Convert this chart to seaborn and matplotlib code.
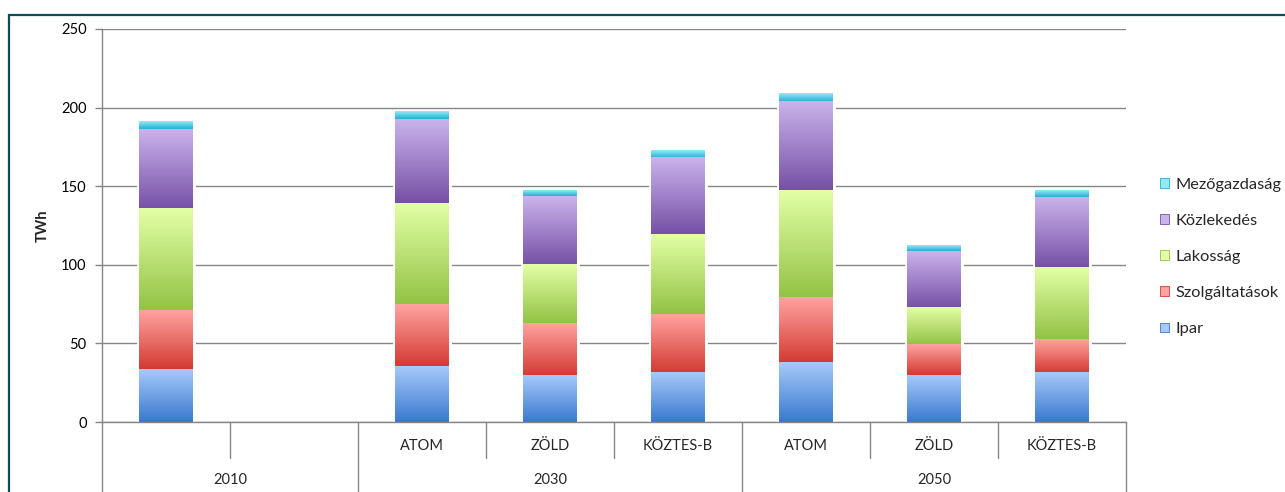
import matplotlib
matplotlib.use("Agg")

import numpy as np
import pandas as pd
import matplotlib.pyplot as plt
import matplotlib.colors as mcolors
from matplotlib.patches import Patch, Rectangle
import seaborn as sns


# ==========================================
# DATA (TWh)
# ==========================================

slot_order = [
    "2010", "2010 -",
    "2030 ATOM", "2030 ZÖLD", "2030 KÖZTES-B",
    "2050 ATOM", "2050 ZÖLD", "2050 KÖZTES-B"
]

bar_keys = [
    "2010",
    "2030 ATOM", "2030 ZÖLD", "2030 KÖZTES-B",
    "2050 ATOM", "2050 ZÖLD", "2050 KÖZTES-B"
]

sub_labels = ["", "", "ATOM", "ZÖLD", "KÖZTES-B", "ATOM", "ZÖLD", "KÖZTES-B"]

group_labels = ["2010", "2030", "2050"]

sectors = ["Ipar", "Szolgáltatások", "Lakosság", "Közlekedés", "Mezőgazdaság"]

ipar = [33.7, 35.2, 29.5, 31.4, 37.7, 29.7, 31.4]
szolgaltatasok = [37.5, 39.9, 33.7, 37.3, 41.4, 19.3, 21.2]
lakossag = [64.3, 64.0, 36.9, 50.7, 68.5, 23.7, 45.6]
kozlekedes = [50.7, 53.4, 43.7, 48.7, 56.2, 35.9, 44.7]
mezogazdasag = [4.8, 4.9, 3.8, 4.5, 5.3, 3.4, 4.0]

# top / bottom colour of each gradient fill
gradients = {
    "Ipar": ("#a6c9fa", "#3a79cf"),
    "Szolgáltatások": ("#ffa3a0", "#d33a32"),
    "Lakosság": ("#e3ffa5", "#92c345"),
    "Közlekedés": ("#cab3ec", "#7650a6"),
    "Mezőgazdaság": ("#92eaf8", "#25afd3"),
}


# ==========================================
# LONG TABLE WITH STACK BOUNDS
# ==========================================

rows = []
for i, key in enumerate(bar_keys):
    cum = 0.0
    for sector, values in zip(
        sectors,
        [ipar, szolgaltatasok, lakossag, kozlekedes, mezogazdasag]
    ):
        bottom = cum
        cum += values[i]
        rows.append({"slot": key, "sector": sector, "bottom": bottom, "top": cum})

df = pd.DataFrame(rows)


# ==========================================
# FIGURE
# ==========================================

sns.set_style("white")
plt.rcParams["font.family"] = ["Lato", "DejaVu Sans"]

grid_color = "#868686"

fig = plt.figure(figsize=(12.85, 4.92), dpi=100)
ax = fig.add_axes([102 / 1285, 1 - 422 / 492, 1024 / 1285, 393 / 492])

bar_width = 0.42

# stacked bars: cumulative totals drawn from the top segment down
for sector in reversed(sectors):
    layer = df[df["sector"] == sector]
    n_before = len(ax.patches)
    sns.barplot(
        data=layer, x="slot", y="top", order=slot_order,
        width=bar_width, color=gradients[sector][0],
        errorbar=None, ax=ax, zorder=2
    )
    for patch in ax.patches[n_before:]:
        h = patch.get_height()
        if not np.isfinite(h) or h <= 0:
            continue
        x0 = patch.get_x()
        idx = int(round(x0 + patch.get_width() / 2))
        key = slot_order[idx]
        row = layer[layer["slot"] == key].iloc[0]
        top_c = np.array(mcolors.to_rgb(gradients[sector][0]))
        bot_c = np.array(mcolors.to_rgb(gradients[sector][1]))
        t = np.linspace(0, 1, 80)[:, None, None]
        img = top_c * (1 - t) + bot_c * t
        ax.imshow(
            img, extent=[x0, x0 + patch.get_width(), row["bottom"], row["top"]],
            origin="upper", aspect="auto", interpolation="bilinear", zorder=3
        )
        if sector == "Mezőgazdaság":
            # soft white halo around the whole column
            patch.set_facecolor("white")
            patch.set_edgecolor("white")
            patch.set_linewidth(3.5)
        else:
            patch.set_facecolor("none")
            patch.set_edgecolor("none")

ax.set_xlim(-0.5, 7.5)
ax.set_ylim(0, 250)


# ==========================================
# AXES STYLE
# ==========================================

ax.set_yticks([0, 50, 100, 150, 200, 250])
ax.yaxis.grid(True, color=grid_color, linewidth=1)
ax.set_axisbelow(True)

for side in ["top", "right"]:
    ax.spines[side].set_visible(False)
for side in ["left", "bottom"]:
    ax.spines[side].set_color(grid_color)
    ax.spines[side].set_linewidth(1)

ax.tick_params(axis="y", length=5, width=1, color=grid_color,
               labelsize=10.5, labelcolor="black", pad=6, left=True)
ax.set_xticks([])
ax.set_xlabel("")

ax.set_ylabel("TWh", fontsize=10.5, fontweight="bold")
ax.yaxis.set_label_coords(-0.051, 0.5)


# ==========================================
# TWO-LEVEL CATEGORY AXIS
# ==========================================

trans = ax.get_xaxis_transform()
row_split = -36 / 393

for b in np.arange(-0.5, 8.0, 1.0):
    ax.plot([b, b], [0, row_split], transform=trans, color=grid_color,
            linewidth=1, clip_on=False)
for b in [-0.5, 1.5, 4.5, 7.5]:
    ax.plot([b, b], [row_split, -0.3], transform=trans, color=grid_color,
            linewidth=1, clip_on=False)

for i, label in enumerate(sub_labels):
    if label:
        ax.text(i, -24 / 393, label, transform=trans, ha="center",
                va="center", fontsize=10.5)

for pos, label in zip([0.5, 3, 6], group_labels):
    ax.text(pos, -58 / 393, label, transform=trans, ha="center",
            va="center", fontsize=10.5)


# ==========================================
# LEGEND
# ==========================================

handles = [
    Patch(facecolor=gradients[s][0], edgecolor=gradients[s][1], linewidth=0.6)
    for s in reversed(sectors)
]
fig.legend(
    handles, list(reversed(sectors)),
    loc="center left", bbox_to_anchor=(1152 / 1285, 1 - 257 / 492),
    frameon=False, fontsize=11.8, handlelength=0.55, handleheight=0.55,
    handletextpad=0.4, labelspacing=1.35, borderpad=0
)


# ==========================================
# OUTER FRAME
# ==========================================

fig.patches.append(Rectangle(
    (9 / 1285, -0.1), 1.2, 0.1 + 1 - 15 / 492,
    transform=fig.transFigure, fill=False,
    edgecolor="#0e4a5e", linewidth=1.6
))

fig.savefig("out.png", dpi=100)
